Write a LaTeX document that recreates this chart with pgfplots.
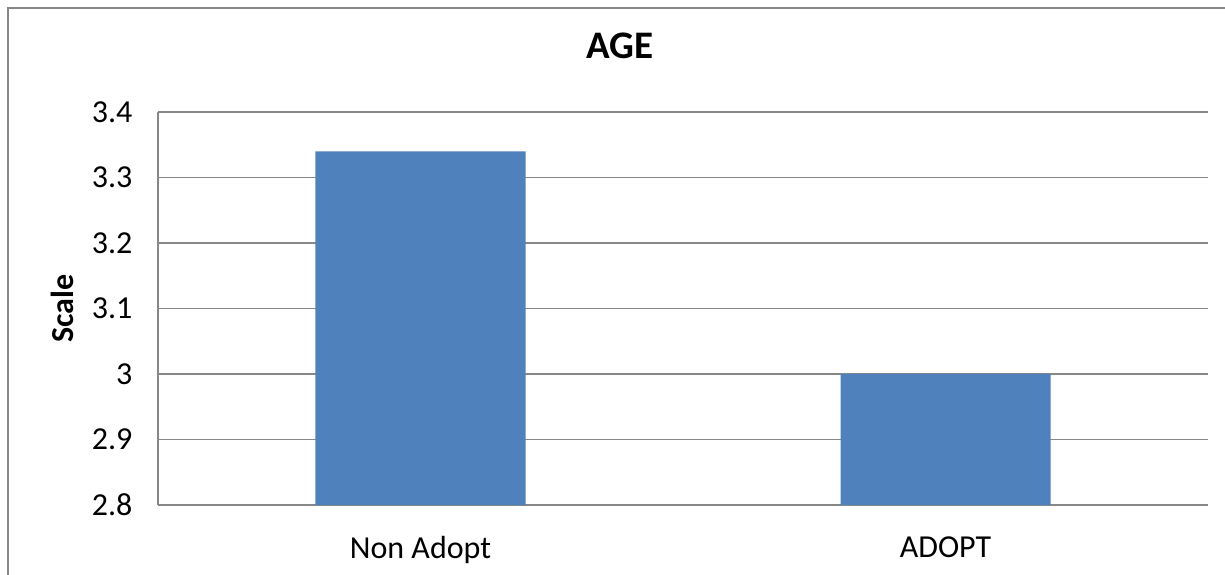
\documentclass[border=0pt]{standalone}
\usepackage{fontspec}
\setmainfont{Carlito}
\usepackage{pgfplots}
\pgfplotsset{compat=1.18}
\definecolor{barblue}{HTML}{4F81BD}
\definecolor{gridgray}{HTML}{878787}
\begin{document}
\begin{tikzpicture}[x=1pt,y=1pt]
\useasboundingbox (-158,-70) rectangle (1067,505);
\draw[gridgray, line width=2.2pt] (-150,-80) -- (-150,497) -- (1080,497);
\begin{axis}[
  at={(0,0)}, anchor=south west,
  scale only axis,
  width=1050pt, height=393pt,
  xmin=-0.5, xmax=1.5,
  ymin=2.8, ymax=3.4,
  ytick={2.8,2.9,3,3.1,3.2,3.3,3.4},
  xtick={0,1},
  xticklabels={Non Adopt, ADOPT},
  /pgf/number format/assume math mode=true,
  /pgf/number format/fixed,
  tick label style={font=\fontsize{32}{38}\selectfont},
  xticklabel style={yshift=-28pt},
  yticklabel style={xshift=-22pt},
  major tick length=0pt,
  ymajorgrids=true,
  grid style={gridgray, line width=1.8pt},
  axis x line*=bottom,
  axis y line*=left,
  axis line style={gridgray, line width=1.8pt, -},
  ylabel={\textbf{Scale}},
  ylabel style={font=\fontsize{32}{38}\selectfont, at={(axis description cs:-0.0914,0.5)}, anchor=center},
  title={\textbf{AGE}},
  title style={font=\fontsize{39}{46}\selectfont, at={(0.44,1)}, anchor=center, yshift=60pt},
  ybar, bar width=210pt,
]
\addplot[fill=barblue, draw=none] coordinates {(0,3.34) (1,3.0)};
\end{axis}
\end{tikzpicture}
\end{document}
